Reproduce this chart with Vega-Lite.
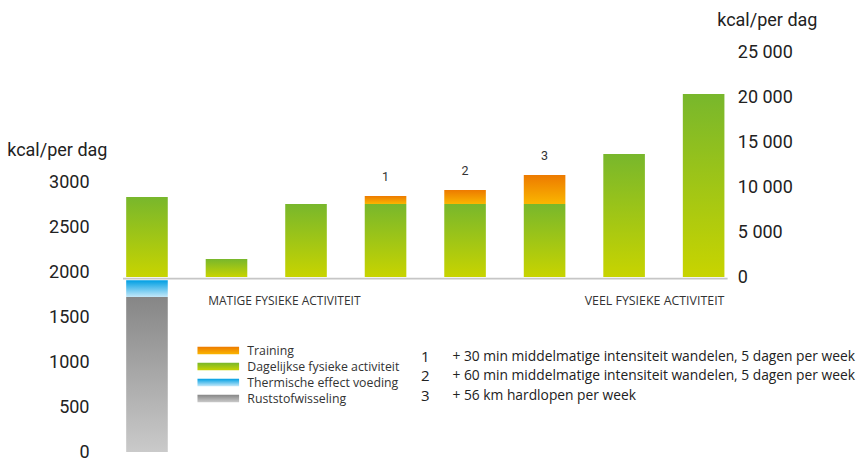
{
  "$schema": "https://vega.github.io/schema/vega-lite/v6.json",
  "width": 604.6,
  "height": 450,
  "autosize": {"type": "none"},
  "padding": {"left": 123, "top": 2, "right": 130.4, "bottom": 10},
  "background": "white",
  "config": {
    "view": {"stroke": null},
    "font": "Roboto",
    "axis": {"grid": false, "domain": false, "ticks": false, "labelColor": "#222", "titleColor": "#222", "labelFont": "Roboto", "titleFont": "Roboto", "labelFontSize": 18, "titleFontSize": 18, "titleFontWeight": "normal"}
  },
  "datasets": {
    "lower": [
      {"bar": "1", "component": "Ruststofwisseling", "from": 0, "to": 1722},
      {"bar": "1", "component": "Thermische effect voeding", "from": 1722, "to": 1908}
    ],
    "upper": [
      {"bar": "1", "component": "Dagelijkse fysieke activiteit", "from": 0, "to": 8889, "note": ""},
      {"bar": "2", "component": "Dagelijkse fysieke activiteit", "from": 0, "to": 2000, "note": ""},
      {"bar": "3", "component": "Dagelijkse fysieke activiteit", "from": 0, "to": 8111, "note": ""},
      {"bar": "4", "component": "Dagelijkse fysieke activiteit", "from": 0, "to": 8111, "note": ""},
      {"bar": "4", "component": "Training", "from": 8111, "to": 9000, "note": "1"},
      {"bar": "5", "component": "Dagelijkse fysieke activiteit", "from": 0, "to": 8111, "note": ""},
      {"bar": "5", "component": "Training", "from": 8111, "to": 9667, "note": "2"},
      {"bar": "6", "component": "Dagelijkse fysieke activiteit", "from": 0, "to": 8111, "note": ""},
      {"bar": "6", "component": "Training", "from": 8111, "to": 11333, "note": "3"},
      {"bar": "7", "component": "Dagelijkse fysieke activiteit", "from": 0, "to": 13667, "note": ""},
      {"bar": "8", "component": "Dagelijkse fysieke activiteit", "from": 0, "to": 20333, "note": ""}
    ],
    "zones": [
      {"zone": "MATIGE FYSIEKE ACTIVITEIT"},
      {"zone": "VEEL FYSIEKE ACTIVITEIT"}
    ],
    "notes": [
      {"n": "1", "note": "+ 30 min middelmatige intensiteit wandelen, 5 dagen per week"},
      {"n": "2", "note": "+ 60 min middelmatige intensiteit wandelen, 5 dagen per week"},
      {"n": "3", "note": "+ 56 km hardlopen per week"}
    ]
  },
  "layer": [
    {
      "data": {"name": "lower"},
      "mark": {"type": "bar"},
      "encoding": {
        "x": {"field": "bar", "type": "nominal", "axis": null, "scale": {"domain": ["1","2","3","4","5","6","7","8"], "paddingInner": 0.477, "paddingOuter": 0.04}},
        "y": {"field": "to", "type": "quantitative", "scale": {"domain": [0, 5000], "nice": false, "zero": false},
          "axis": {"orient": "left", "values": [0, 500, 1000, 1500, 2000, 2500, 3000], "format": "d", "labelPadding": 34, "title": "kcal/per dag", "titleAngle": 0, "titleAlign": "left", "titleBaseline": "middle", "titleAnchor": null, "titleX": -116.3, "titleY": 148}},
        "y2": {"field": "from"},
        "color": {"field": "component", "type": "nominal",
          "scale": {"domain": ["Training", "Dagelijkse fysieke activiteit", "Thermische effect voeding", "Ruststofwisseling"],
            "range": [
              {"expr": "{gradient: 'linear', x1: 0, y1: 0, x2: 0, y2: 1, stops: [{offset: 0, color: '#ed7a00'}, {offset: 1, color: '#fab600'}]}"},
              {"expr": "{gradient: 'linear', x1: 0, y1: 0, x2: 0, y2: 1, stops: [{offset: 0, color: '#78b72c'}, {offset: 1, color: '#c8d400'}]}"},
              {"expr": "{gradient: 'linear', x1: 0, y1: 0, x2: 0, y2: 1, stops: [{offset: 0, color: '#009fe3'}, {offset: 1, color: '#c4e8f9'}]}"},
              {"expr": "{gradient: 'linear', x1: 0, y1: 0, x2: 0, y2: 1, stops: [{offset: 0, color: '#868686'}, {offset: 1, color: '#cacaca'}]}"}
            ]},
          "legend": {"orient": "none", "legendX": 74.3, "legendY": 340, "title": null, "padding": 0,
            "symbolType": "M-1,-0.45H4V0.45H-1Z", "symbolSize": 277, "symbolStrokeWidth": 0, "symbolOpacity": 1,
            "labelFont": "Open Sans", "labelFontSize": 12.3, "labelColor": "#333", "labelOffset": 33, "rowPadding": 1, "labelLimit": 300}
        }
      }
    },
    {
      "layer": [
        {
          "data": {"name": "upper"},
          "mark": {"type": "bar"},
          "encoding": {
            "x": {"field": "bar", "type": "nominal", "axis": null},
            "y": {"field": "to", "type": "quantitative", "scale": {"domain": [-19444.4, 30555.6], "nice": false, "zero": false},
              "axis": {"orient": "right", "values": [0, 5000, 10000, 15000, 20000, 25000], "labelExpr": "replace(format(datum.value, ','), ',', ' ')", "labelAlign": "left", "labelPadding": 9.7, "title": "kcal/per dag", "titleAngle": 0, "titleAlign": "left", "titleBaseline": "middle", "titleAnchor": null, "titleX": -10.9, "titleY": 18}},
            "y2": {"field": "from"},
            "color": {"field": "component", "type": "nominal"}
          }
        },
        {
          "data": {"values": [{}]},
          "mark": {"type": "rule", "color": "#c6c6c6", "strokeWidth": 1.8},
          "encoding": {"y": {"datum": -180}}
        },
        {
          "data": {"name": "upper"},
          "transform": [{"filter": "datum.note != ''"}],
          "mark": {"type": "text", "baseline": "alphabetic", "dy": -15, "font": "Roboto", "fontSize": 12.5, "color": "#333"},
          "encoding": {
            "x": {"field": "bar", "type": "nominal", "bandPosition": 0.5},
            "y": {"field": "to", "type": "quantitative"},
            "text": {"field": "note"}
          }
        },
        {
          "data": {"name": "zones"},
          "transform": [{"filter": "datum.zone == 'MATIGE FYSIEKE ACTIVITEIT'"}],
          "mark": {"type": "text", "align": "left", "baseline": "middle", "font": "Open Sans", "fontSize": 12, "color": "#333"},
          "encoding": {"x": {"datum": "2", "bandPosition": 0.06}, "y": {"datum": -2700}, "text": {"field": "zone"}}
        },
        {
          "data": {"name": "zones"},
          "transform": [{"filter": "datum.zone == 'VEEL FYSIEKE ACTIVITEIT'"}],
          "mark": {"type": "text", "align": "right", "baseline": "middle", "font": "Open Sans", "fontSize": 12.4, "color": "#333"},
          "encoding": {"x": {"datum": "8", "bandPosition": 1}, "y": {"datum": -2700}, "text": {"field": "zone"}}
        },
        {
          "data": {"name": "notes"},
          "transform": [{"filter": "datum.n == '1'"}],
          "layer": [
            {"mark": {"type": "text", "align": "center", "baseline": "middle", "font": "Open Sans", "fontSize": 15, "color": "#222"},
             "encoding": {"x": {"datum": "5", "bandPosition": -0.457}, "y": {"datum": -8900}, "text": {"field": "n"}}},
            {"mark": {"type": "text", "align": "left", "baseline": "middle", "font": "Open Sans", "fontSize": 13.8, "color": "#222"},
             "encoding": {"x": {"datum": "5", "bandPosition": 0.197}, "y": {"datum": -8856}, "text": {"field": "note"}}}
          ]
        },
        {
          "data": {"name": "notes"},
          "transform": [{"filter": "datum.n == '2'"}],
          "layer": [
            {"mark": {"type": "text", "align": "center", "baseline": "middle", "font": "Open Sans", "fontSize": 15, "color": "#222"},
             "encoding": {"x": {"datum": "5", "bandPosition": -0.457}, "y": {"datum": -11050}, "text": {"field": "n"}}},
            {"mark": {"type": "text", "align": "left", "baseline": "middle", "font": "Open Sans", "fontSize": 13.8, "color": "#222"},
             "encoding": {"x": {"datum": "5", "bandPosition": 0.197}, "y": {"datum": -11000}, "text": {"field": "note"}}}
          ]
        },
        {
          "data": {"name": "notes"},
          "transform": [{"filter": "datum.n == '3'"}],
          "layer": [
            {"mark": {"type": "text", "align": "center", "baseline": "middle", "font": "Open Sans", "fontSize": 15, "color": "#222"},
             "encoding": {"x": {"datum": "5", "bandPosition": -0.457}, "y": {"datum": -13270}, "text": {"field": "n"}}},
            {"mark": {"type": "text", "align": "left", "baseline": "middle", "font": "Open Sans", "fontSize": 13.8, "color": "#222"},
             "encoding": {"x": {"datum": "5", "bandPosition": 0.197}, "y": {"datum": -13222}, "text": {"field": "note"}}}
          ]
        }
      ]
    }
  ],
  "resolve": {"scale": {"y": "independent"}}
}
